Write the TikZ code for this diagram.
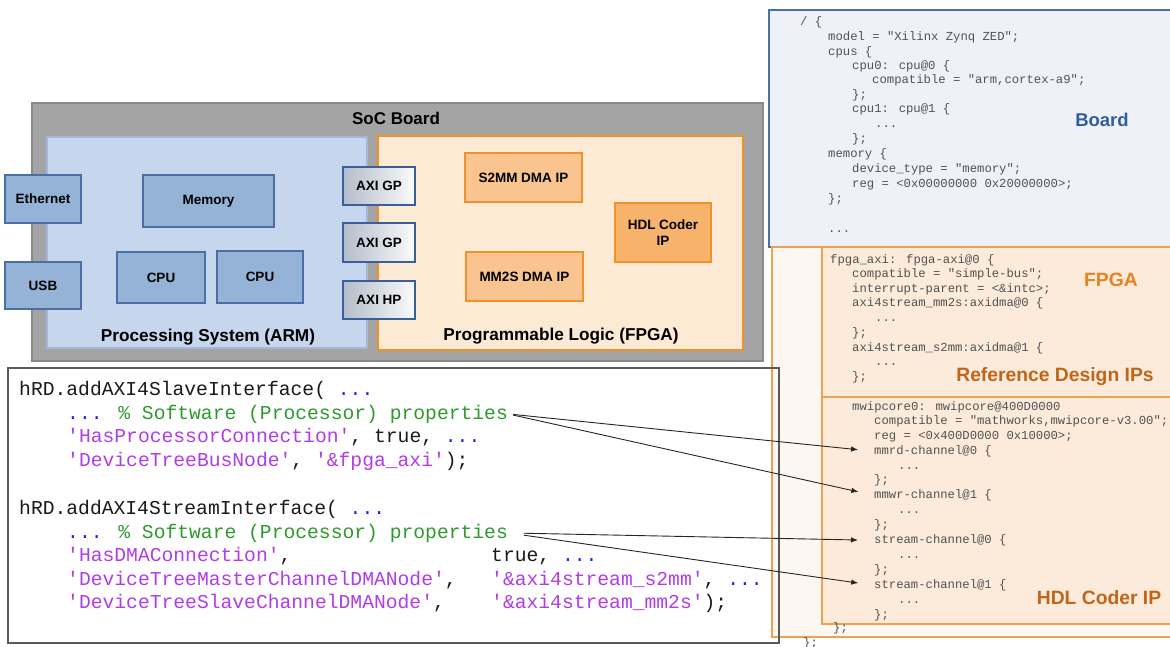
\documentclass[tikz,border=0pt]{standalone}
\usepackage{fontspec}
\setmainfont{Liberation Sans}
\newfontfamily\codefont{Liberation Mono}
\usetikzlibrary{arrows.meta}
\definecolor{socgray}{HTML}{A4A4A4}
\definecolor{socborder}{HTML}{8A8A8A}
\definecolor{psfill}{HTML}{C6D6EC}
\definecolor{psborder}{HTML}{A3B8D8}
\definecolor{bluefill}{HTML}{95B3D7}
\definecolor{blueborder}{HTML}{4A6FA5}
\definecolor{plfill}{HTML}{FDEAD5}
\definecolor{orborder}{HTML}{EE922C}
\definecolor{orfill}{HTML}{F9C48F}
\definecolor{hdlfill}{HTML}{F7B36C}
\definecolor{axiborder}{HTML}{3B5F9A}
\definecolor{axileft}{HTML}{B4BDCB}
\definecolor{boardfill}{HTML}{EEF2F8}
\definecolor{boardborder}{HTML}{4A70A6}
\definecolor{fpgaouter}{HTML}{FCF7F1}
\definecolor{fpgafill}{HTML}{FCEBDA}
\definecolor{panelorange}{HTML}{F0A050}
\definecolor{dtgray}{HTML}{525252}
\definecolor{boardblue}{HTML}{2F5E9E}
\definecolor{fpgaorange}{HTML}{E8821E}
\definecolor{refbrown}{HTML}{C0661A}
\definecolor{codeborder}{HTML}{5A5A5A}
\definecolor{mlblack}{HTML}{1A1A1A}
\definecolor{mlblue}{HTML}{2222F0}
\definecolor{mlgreen}{HTML}{2E9A2E}
\definecolor{mlpurple}{HTML}{B23CE6}
\newcommand\mlb[1]{\textcolor{mlblue}{#1}}
\newcommand\mlg[1]{\textcolor{mlgreen}{#1}}
\newcommand\mlp[1]{\textcolor{mlpurple}{#1}}
\begin{document}
\begin{tikzpicture}[x=1pt,y=-1pt,
  box/.style={draw, line width=1.5pt, inner sep=0pt, align=center, font=\fontsize{13.5}{15.5}\selectfont\bfseries},
  bluebox/.style={box, fill=bluefill, draw=blueborder},
  orbox/.style={box, fill=orfill, draw=orborder},
  axibox/.style={box, draw=axiborder, left color=axileft, right color=white!96!gray},
  biglbl/.style={font=\fontsize{17.2}{19}\selectfont\bfseries, inner sep=0pt},
  panellbl/.style={font=\fontsize{19.3}{21}\selectfont\bfseries, inner sep=0pt},
  dt/.style={anchor=base west, inner sep=0pt, text=dtgray, font=\fontsize{12.25}{14}\selectfont\codefont},
  ml/.style={anchor=base west, inner sep=0pt, text=mlblack, font=\fontsize{19.67}{22}\selectfont\codefont},
  conn/.style={draw=black!85, line width=0.9pt, -{Latex[length=7pt,width=5.5pt]}}
]
\useasboundingbox (0,0) rectangle (1170,646);
\fill[white] (0,0) rectangle (1170,646);

% ---------------- SoC board ----------------
\node[draw=socborder, fill=socgray, line width=1.5pt, minimum width=731, minimum height=258, inner sep=0pt] (soc) at (397.5,232) {};
\node[font=\fontsize{17}{19}\selectfont\bfseries, inner sep=0pt] (soclbl) at (396,118) {SoC Board};
\node[draw=psborder, fill=psfill, line width=1.5pt, minimum width=320, minimum height=211, inner sep=0pt] (ps) at (207,242.5) {};
\node[draw=orborder, fill=plfill, line width=1.5pt, minimum width=365, minimum height=214, inner sep=0pt] (pl) at (560.5,243) {};
\node[biglbl] (pslbl) at (208,337) {Processing System (ARM)};
\node[biglbl] (pllbl) at (561,336) {Programmable Logic (FPGA)};

\node[bluebox, minimum width=76, minimum height=48] (eth) at (43,199) {Ethernet};
\node[bluebox, minimum width=76, minimum height=47] (usb) at (43,285.5) {USB};
\node[bluebox, minimum width=131, minimum height=52] (mem) at (208.5,201) {Memory};
\node[bluebox, minimum width=88, minimum height=51] (cpua) at (161,277.5) {CPU};
\node[bluebox, minimum width=86, minimum height=52] (cpub) at (260,277) {CPU};

\node[orbox, minimum width=117, minimum height=49] (s2mm) at (523.5,177.5) {S2MM DMA IP};
\node[orbox, minimum width=117, minimum height=49] (mm2s) at (524.5,276.5) {MM2S DMA IP};
\node[orbox, fill=hdlfill, minimum width=96, minimum height=59] (hdl) at (663,232.5) {HDL Coder\\IP};

\node[axibox, minimum width=72, minimum height=38] (axigp1) at (379,186) {AXI GP};
\node[axibox, minimum width=72, minimum height=39] (axigp2) at (379,242.5) {AXI GP};
\node[axibox, minimum width=72, minimum height=38] (axihp) at (379,300) {AXI HP};

% ---------------- code box (fill) ----------------
\node[fill=white, minimum width=771, minimum height=275, inner sep=0pt] (codebox) at (393.5,505.5) {};

% ---------------- right panels ----------------
\node[draw=boardborder, fill=boardfill, line width=1.5pt, minimum width=415, minimum height=237, inner sep=0pt] (board) at (976.5,128.5) {};
\node[draw=panelorange, fill=fpgaouter, line width=1.5pt, minimum width=412, minimum height=390, inner sep=0pt] (fpgaouter) at (978,442) {};
\node[draw=panelorange, fill=fpgafill, line width=1.5pt, minimum width=362, minimum height=150, inner sep=0pt] (fpgabox) at (1003,322) {};
\node[draw=panelorange, fill=fpgafill, line width=1.5pt, minimum width=362, minimum height=227, inner sep=0pt] (hdlbox) at (1003,510.5) {};

\node[panellbl, font=\fontsize{18.5}{21}\selectfont\bfseries, text=boardblue] (boardlbl) at (1102,120) {Board};
\node[panellbl, text=fpgaorange] (fpgalbl) at (1111,280) {FPGA};
\node[panellbl, text=refbrown] (reflbl) at (1055,377) {Reference Design IPs};
\node[panellbl, text=refbrown] (hdllbl) at (1099,598) {HDL Coder IP};

% board device tree
\node[dt] (b0) at (800,25.5) {/ \{};
\node[dt] (b1) at (828,40.5) {model = "Xilinx Zynq ZED";};
\node[dt] (b2) at (828,55.5) {cpus \{};
\node[dt] (b3) at (852,69.5) {cpu0: cpu@0 \{};
\node[dt] (b4) at (872,83.5) {compatible = "arm,cortex-a9";};
\node[dt] (b5) at (852,98.5) {\};};
\node[dt] (b6) at (852,112.5) {cpu1: cpu@1 \{};
\node[dt] (b7) at (875,127.5) {...};
\node[dt] (b8) at (852,142.5) {\};};
\node[dt] (b9) at (828,157.5) {memory \{};
\node[dt] (b10) at (852,172.5) {device\_type = "memory";};
\node[dt] (b11) at (852,187.5) {reg = <0x00000000 0x20000000>;};
\node[dt] (b12) at (828,202.5) {\};};
\node[dt] (b13) at (828,232.5) {...};

% fpga device tree
\node[dt] (f0) at (830,263.5) {fpga\_axi: fpga-axi@0 \{};
\node[dt] (f1) at (852,277.5) {compatible = "simple-bus";};
\node[dt] (f2) at (852,292.5) {interrupt-parent = <\&intc>;};
\node[dt] (f3) at (852,306.5) {axi4stream\_mm2s:axidma@0 \{};
\node[dt] (f4) at (875,321.5) {...};
\node[dt] (f5) at (852,336.5) {\};};
\node[dt] (f6) at (852,351.5) {axi4stream\_s2mm:axidma@1 \{};
\node[dt] (f7) at (875,365.5) {...};
\node[dt] (f8) at (852,380.5) {\};};

% hdl coder ip device tree
\node[dt] (h0) at (852,410.5) {mwipcore0: mwipcore@400D0000};
\node[dt] (h1) at (874,424.5) {compatible = "mathworks,mwipcore-v3.00";};
\node[dt] (h2) at (874,439.5) {reg = <0x400D0000 0x10000>;};
\node[dt] (mmrd) at (874,454.5) {mmrd-channel@0 \{};
\node[dt] (h4) at (898,469.5) {...};
\node[dt] (h5) at (874,483.5) {\};};
\node[dt] (mmwr) at (874,498.5) {mmwr-channel@1 \{};
\node[dt] (h7) at (898,513.5) {...};
\node[dt] (h8) at (874,528.5) {\};};
\node[dt] (sc0) at (874,543.5) {stream-channel@0 \{};
\node[dt] (h10) at (898,558.5) {...};
\node[dt] (h11) at (874,573.5) {\};};
\node[dt] (sc1) at (874,588.5) {stream-channel@1 \{};
\node[dt] (h13) at (898,603.5) {...};
\node[dt] (h14) at (874,618.5) {\};};
\node[dt] (h15) at (833,631.5) {\};};
\node[dt] (h16) at (803,646) {\};};

% ---------------- code box border ----------------
\draw[draw=codeborder, line width=2pt] (codebox.north west) rectangle (codebox.south east);

% MATLAB code
\node[ml] (m1) at (19,395) {hRD.addAXI4SlaveInterface( \mlb{...}};
\node[ml] (p1) at (67,419) {\mlb{...} \mlg{\% Software (Processor) properties}};
\node[ml] (m3) at (67,442.5) {\mlp{'HasProcessorConnection'}, true, \mlb{...}};
\node[ml] (m4) at (67,466) {\mlp{'DeviceTreeBusNode'}, \mlp{'\&fpga\_axi'});};
\node[ml] (m5) at (19,514) {hRD.addAXI4StreamInterface( \mlb{...}};
\node[ml] (p2) at (67,538) {\mlb{...} \mlg{\% Software (Processor) properties}};
\node[ml] (m7) at (67,561) {\mlp{'HasDMAConnection'},};
\node[ml] (m7b) at (491,561) {true, \mlb{...}};
\node[ml] (m8) at (67,585) {\mlp{'DeviceTreeMasterChannelDMANode'},};
\node[ml] (m8b) at (491,585) {\mlp{'\&axi4stream\_s2mm'}, \mlb{...}};
\node[ml] (m9) at (67,608) {\mlp{'DeviceTreeSlaveChannelDMANode'},};
\node[ml] (m9b) at (491,608) {\mlp{'\&axi4stream\_mm2s'});};

% connectors
\draw[conn, shorten <=5pt, shorten >=16pt] (p1.east) -- (mmrd.west);
\draw[conn, shorten <=5pt, shorten >=16pt] (p1.east) -- (mmwr.west);
\draw[conn, shorten <=16pt, shorten >=16pt] (p2.east) -- (sc0.west);
\draw[conn, shorten <=16pt, shorten >=16pt] (p2.east) -- (sc1.west);
\end{tikzpicture}
\end{document}
